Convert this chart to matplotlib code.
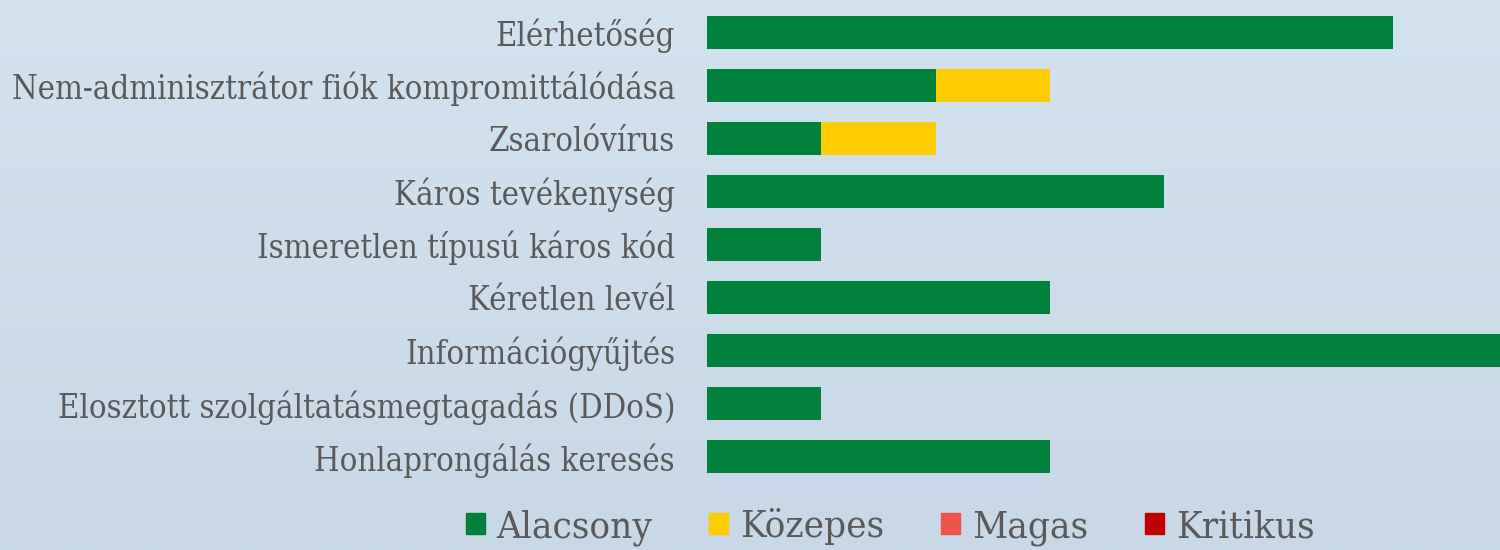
import numpy as np
import matplotlib
matplotlib.use("Agg")
import matplotlib.pyplot as plt
from matplotlib.patches import Patch
from matplotlib.colors import LinearSegmentedColormap

categories = ["Elérhetőség",
              "Nem-adminisztrátor fiók kompromittálódása",
              "Zsarolóvírus",
              "Káros tevékenység",
              "Ismeretlen típusú káros kód",
              "Kéretlen levél",
              "Információgyűjtés",
              "Elosztott szolgáltatásmegtagadás (DDoS)",
              "Honlaprongálás keresés"]
alacsony = [6, 2, 1, 4, 1, 3, 7, 1, 3]
kozepes = [0, 1, 1, 0, 0, 0, 0, 0, 0]
magas = [0, 0, 0, 0, 0, 0, 0, 0, 0]
kritikus = [0, 0, 0, 0, 0, 0, 0, 0, 0]

series = ["Alacsony", "Közepes", "Magas", "Kritikus"]
colors = ["#00823d", "#ffcc00", "#ec5349", "#c00000"]
text_color = "#5a5a5a"
font = "DejaVu Serif"

fig = plt.figure(figsize=(15, 5.5), dpi=100)

# background gradient
bg = fig.add_axes([0, 0, 1, 1], zorder=-10)
grad = np.linspace(0, 1, 256).reshape(-1, 1)
cmap = LinearSegmentedColormap.from_list("bg", ["#d3e2ef", "#c8d8e6"])
bg.imshow(grad, aspect="auto", cmap=cmap, extent=[0, 1, 0, 1])
bg.axis("off")

ax = fig.add_axes([707 / 1500, 1 - 483.5 / 550, 793 / 1500, 478 / 550])
ax.patch.set_alpha(0)

y = np.arange(len(categories))
left = np.zeros(len(categories))
for name, vals, c in zip(series, [alacsony, kozepes, magas, kritikus], colors):
    vals = np.array(vals, dtype=float)
    ax.barh(y, vals, left=left, height=0.62, color=c, label=name)
    left += vals

ax.set_ylim(len(categories) - 0.5, -0.5)
ax.set_xlim(0, 6.94)
ax.set_yticks(y)
ax.set_yticklabels(categories, fontsize=23.5, color=text_color,
                   fontfamily=font, fontstretch="condensed")
ax.tick_params(axis="y", length=0, pad=23)
ax.set_xticks([])
for s in ax.spines.values():
    s.set_visible(False)

handles = [Patch(color=c) for c in colors]
fig.legend(handles, series, loc="center", bbox_to_anchor=(890 / 1500, 0.042),
           ncol=4, frameon=False, handlelength=0.5, handleheight=0.5,
           handletextpad=0.3, columnspacing=1.5,
           prop={"family": font, "size": 27.5, "stretch": "condensed"},
           labelcolor=text_color)

fig.savefig("out.png", dpi=100)
